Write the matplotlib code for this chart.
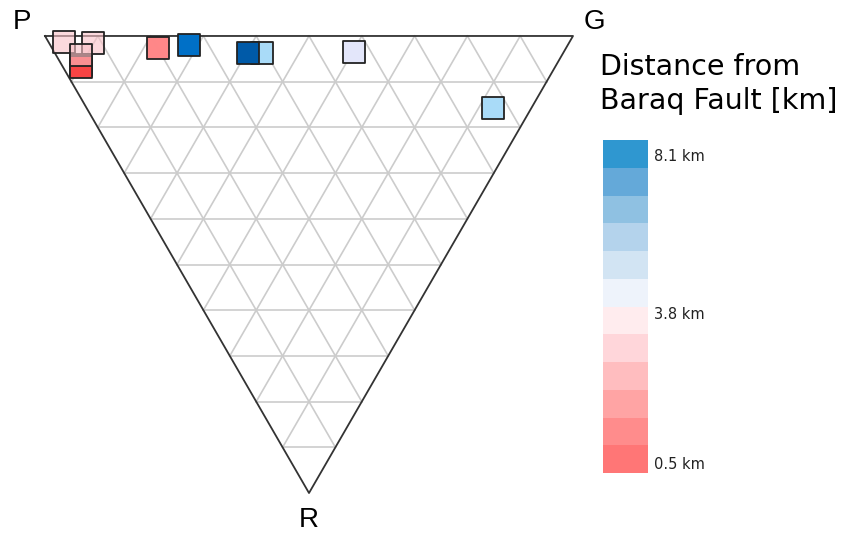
import matplotlib.pyplot as plt
import matplotlib.colors as mcolors
import numpy as np

# sample compositions as P / G / R fractions and distance from the fault (km)
p_frac = [0.958, 0.901, 0.901, 0.898, 0.911, 0.772, 0.717, 0.570, 0.597, 0.398, 0.072]
g_frac = [0.029, 0.084, 0.036, 0.034, 0.047, 0.201, 0.264, 0.393, 0.366, 0.567, 0.770]
r_frac = [0.013, 0.015, 0.063, 0.068, 0.042, 0.027, 0.019, 0.037, 0.037, 0.035, 0.158]
dist_km = [3.0, 3.0, 1.2, 0.5, 3.0, 1.3, 7.6, 5.6, 8.1, 4.6, 5.6]

corner_labels = ['P', 'G', 'R']
cbar_ticks = [0.5, 3.8, 8.1]
# discrete colour bar bands, bottom to top
band_colors = ['#ff7676', '#ff8c8c', '#ffa4a4', '#ffbdbf', '#ffd6da', '#ffecee',
               '#eef3fb', '#d2e4f3', '#b4d3ec', '#8fc1e2', '#64a9d9', '#2f97d0']

h = np.sqrt(3) / 2


def to_xy(p, g, r):
    # P top-left, G top-right, R at the bottom
    p, g, r = np.asarray(p), np.asarray(g), np.asarray(r)
    return g + 0.5 * r, h * (p + g)


norm = mcolors.TwoSlopeNorm(vmin=0.29, vcenter=3.95, vmax=8.5)
marker_cmap = mcolors.LinearSegmentedColormap.from_list('dist', [
    (0.0, (1.0, 0.22, 0.22, 1.0)),
    (0.0287, (0.97, 0.27, 0.27, 1.0)),
    (0.13, (1.0, 0.52, 0.52, 1.0)),
    (0.37, (0.98, 0.76, 0.78, 0.6)),
    (0.5, (0.95, 0.945, 0.985, 1.0)),
    (0.571, (0.894, 0.902, 0.98, 1.0)),
    (0.681, (0.667, 0.863, 0.973, 1.0)),
    (0.901, (0.0, 0.44, 0.784, 1.0)),
    (0.956, (0.0, 0.353, 0.659, 1.0)),
    (1.0, (0.0, 0.31, 0.6, 1.0)),
])
band_cmap = mcolors.ListedColormap(band_colors)

fig = plt.figure(figsize=(8.55, 5.33), dpi=100)
ax = fig.add_axes([0, 0, 1, 1])
ax.set_xlim(-45 / 528, 810 / 528)
ax.set_ylim(-40 / 528, h + 36 / 528)
ax.axis('off')

# grid, 10 divisions on each side
for k in range(1, 10):
    f = k / 10
    for a, b in [((1 - f, 0, f), (0, 1 - f, f)),
                 ((1 - f, f, 0), (0, f, 1 - f)),
                 ((f, 1 - f, 0), (f, 0, 1 - f))]:
        xs, ys = to_xy(*zip(a, b))
        ax.plot(xs, ys, color='#cccccc', lw=1.2, zorder=1)

xs, ys = to_xy([1, 0, 0, 1], [0, 1, 0, 0], [0, 0, 1, 0])
ax.plot(xs, ys, color='#333333', lw=1.3, zorder=2)

lab_kw = dict(fontsize=20, family='Liberation Sans', ha='center', va='center')
ax.text(-0.044, h + 0.026, corner_labels[0], **lab_kw)
ax.text(1.04, h + 0.026, corner_labels[1], **lab_kw)
ax.text(0.5, -0.052, corner_labels[2], **lab_kw)

mx, my = to_xy(p_frac, g_frac, r_frac)
ax.scatter(mx, my, c=dist_km, cmap=marker_cmap, norm=norm, marker='s', s=250,
           edgecolors='#222222', linewidths=1.3, zorder=3)

# colour bar
cax = fig.add_axes([603 / 855, 60 / 533, 45 / 855, 333 / 533])
sm = plt.cm.ScalarMappable(norm=norm, cmap=band_cmap)
cb = fig.colorbar(sm, cax=cax, ticks=cbar_ticks)
cb.outline.set_visible(False)
cb.set_ticklabels([f'{t} km' for t in cbar_ticks])
cax.tick_params(length=0, pad=4, labelsize=10.5, labelcolor='#222222')

fig.text(600 / 855, 1 - 67 / 533, 'Distance from', fontsize=20.5, va='center', ha='left')
fig.text(600 / 855, 1 - 101 / 533, 'Baraq Fault [km]', fontsize=20.5, va='center', ha='left')

fig.savefig('out.png', dpi=100)
